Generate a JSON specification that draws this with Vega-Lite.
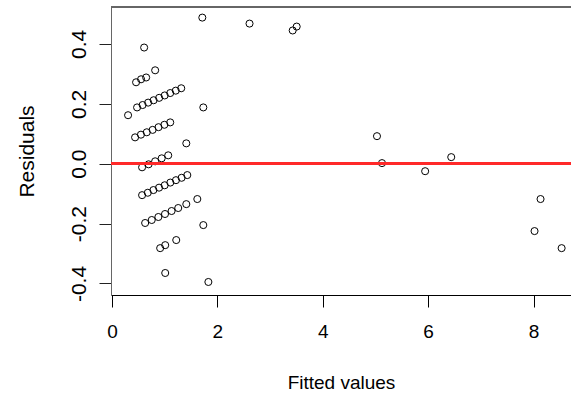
{
  "$schema": "https://vega.github.io/schema/vega-lite/v6.json",
  "width": 460,
  "height": 288,
  "autosize": {"type": "none"},
  "padding": {"left": 111, "top": 7, "right": 0, "bottom": 107},
  "background": "white",
  "config": {
    "view": {"stroke": null},
    "font": "Liberation Sans",
    "axis": {"grid": false, "labelFont": "Liberation Sans", "titleFont": "Liberation Sans", "titleFontWeight": "normal", "labelColor": "#000000", "titleColor": "#000000"},
    "axisX": {"domainColor": "#000000", "tickColor": "#000000", "tickSize": 12, "tickWidth": 1, "labelFontSize": 19, "labelPadding": 15, "titleFontSize": 19, "titlePadding": 32},
    "axisY": {"domainColor": "#666666", "tickColor": "#222222", "tickSize": 12, "tickWidth": 1, "labelAngle": 270, "labelAlign": "center", "labelBaseline": "alphabetic", "labelFontSize": 21, "labelPadding": 14, "titleFontSize": 21, "titlePadding": 31}
  },
  "data": {
    "values": [
      {"fitted": 1.714, "resid": 0.488},
      {"fitted": 2.61, "resid": 0.468},
      {"fitted": 3.429, "resid": 0.445},
      {"fitted": 3.505, "resid": 0.458},
      {"fitted": 0.61, "resid": 0.388},
      {"fitted": 0.819, "resid": 0.312},
      {"fitted": 0.457, "resid": 0.272},
      {"fitted": 0.552, "resid": 0.282},
      {"fitted": 0.648, "resid": 0.288},
      {"fitted": 0.305, "resid": 0.162},
      {"fitted": 0.476, "resid": 0.188},
      {"fitted": 0.581, "resid": 0.196},
      {"fitted": 0.686, "resid": 0.204},
      {"fitted": 0.79, "resid": 0.212},
      {"fitted": 0.895, "resid": 0.22},
      {"fitted": 1.0, "resid": 0.228},
      {"fitted": 1.105, "resid": 0.236},
      {"fitted": 1.21, "resid": 0.244},
      {"fitted": 1.314, "resid": 0.252},
      {"fitted": 1.733, "resid": 0.188},
      {"fitted": 0.438, "resid": 0.088},
      {"fitted": 0.549, "resid": 0.097},
      {"fitted": 0.66, "resid": 0.105},
      {"fitted": 0.771, "resid": 0.113},
      {"fitted": 0.883, "resid": 0.122},
      {"fitted": 0.994, "resid": 0.13},
      {"fitted": 1.105, "resid": 0.138},
      {"fitted": 1.41, "resid": 0.068},
      {"fitted": 0.571, "resid": -0.012},
      {"fitted": 0.695, "resid": -0.002},
      {"fitted": 0.819, "resid": 0.008},
      {"fitted": 0.943, "resid": 0.018},
      {"fitted": 1.067, "resid": 0.028},
      {"fitted": 0.571, "resid": -0.105},
      {"fitted": 0.679, "resid": -0.097},
      {"fitted": 0.786, "resid": -0.088},
      {"fitted": 0.893, "resid": -0.08},
      {"fitted": 1.0, "resid": -0.072},
      {"fitted": 1.107, "resid": -0.063},
      {"fitted": 1.214, "resid": -0.055},
      {"fitted": 1.321, "resid": -0.047},
      {"fitted": 1.429, "resid": -0.038},
      {"fitted": 0.629, "resid": -0.198},
      {"fitted": 0.754, "resid": -0.188},
      {"fitted": 0.88, "resid": -0.178},
      {"fitted": 1.006, "resid": -0.168},
      {"fitted": 1.131, "resid": -0.158},
      {"fitted": 1.257, "resid": -0.148},
      {"fitted": 1.41, "resid": -0.135},
      {"fitted": 1.619, "resid": -0.118},
      {"fitted": 1.733, "resid": -0.205},
      {"fitted": 0.914, "resid": -0.282},
      {"fitted": 1.01, "resid": -0.272},
      {"fitted": 1.219, "resid": -0.255},
      {"fitted": 1.01, "resid": -0.365},
      {"fitted": 1.829, "resid": -0.395},
      {"fitted": 5.029, "resid": 0.092},
      {"fitted": 5.124, "resid": 0.002},
      {"fitted": 5.943, "resid": -0.025},
      {"fitted": 6.438, "resid": 0.022},
      {"fitted": 8.133, "resid": -0.118},
      {"fitted": 8.019, "resid": -0.225},
      {"fitted": 8.533, "resid": -0.282}
    ]
  },
  "layer": [
    {
      "mark": {"type": "point", "shape": "circle", "filled": false, "color": "#000000", "size": 50, "strokeWidth": 1, "opacity": 1},
      "encoding": {
        "x": {
          "field": "fitted",
          "type": "quantitative",
          "scale": {"domain": [-0.019, 8.711], "nice": false, "zero": false},
          "axis": {"title": "Fitted values", "values": [0, 2, 4, 6, 8], "format": "d"}
        },
        "y": {
          "field": "resid",
          "type": "quantitative",
          "scale": {"domain": [-0.4385, 0.5234], "nice": false, "zero": false},
          "axis": {
            "title": "Residuals",
            "values": [-0.4, -0.2, 0, 0.2, 0.4],
            "labelExpr": "replace(format(datum.value, '.1f'), '\u2212', '-')"
          }
        }
      }
    },
    {
      "mark": {"type": "rule", "color": "#666666", "strokeWidth": 1},
      "encoding": {
        "y": {"datum": 0.5234, "type": "quantitative"}
      }
    },
    {
      "mark": {"type": "rule", "color": "#ff2a2a", "strokeWidth": 2},
      "encoding": {
        "y": {"datum": 0, "type": "quantitative"}
      }
    }
  ]
}
